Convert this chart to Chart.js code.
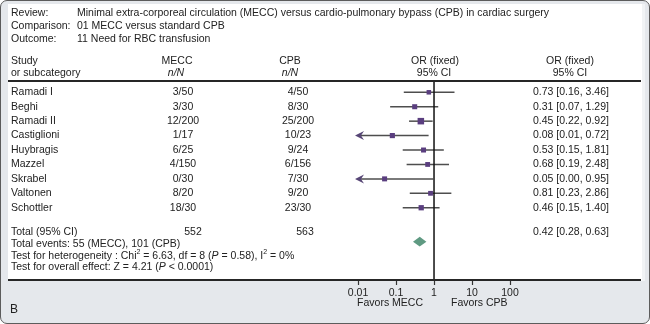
<!DOCTYPE html>
<html>
<head>
<meta charset="utf-8">
<script src="https://cdn.jsdelivr.net/npm/chart.js@4.4.0/dist/chart.umd.min.js"></script>
<style>
  html, body { margin: 0; padding: 0; background: #fff; }
  #frame {
    position: relative; width: 650px; height: 324px; box-sizing: border-box;
    border: 1px solid #5c5c5c; border-radius: 7px; background: #e5e8ec; overflow: hidden;
  }
  #panel {
    position: absolute; left: 7px; top: 3px; width: 634px; height: 277px;
    background: #fff; box-shadow: 3px 0 0 #f1f3f5;
  }
  #forest { position: absolute; left: -1px; top: -1px; }
</style>
</head>
<body>
<div id="frame">
  <div id="panel"></div>
  <canvas id="forest" width="650" height="324"></canvas>
</div>
<script>
// study rows
const studies = ['Ramadi I', 'Beghi', 'Ramadi II', 'Castiglioni', 'Huybragis', 'Mazzel', 'Skrabel', 'Valtonen', 'Schottler'];
const meccEvents = [3, 3, 12, 1, 6, 4, 0, 8, 18];
const meccTotal = [50, 30, 200, 17, 25, 150, 30, 20, 30];
const cpbEvents = [4, 8, 25, 10, 9, 6, 7, 9, 23];
const cpbTotal = [50, 30, 200, 23, 24, 156, 30, 20, 30];
const oddsRatio = [0.73, 0.31, 0.45, 0.08, 0.53, 0.68, 0.05, 0.81, 0.46];
const ciLow = [0.16, 0.07, 0.22, 0.01, 0.15, 0.19, 0.00, 0.23, 0.15];
const ciHigh = [3.46, 1.29, 0.92, 0.72, 1.81, 2.48, 0.95, 2.86, 1.40];

// pooled estimate
const pooledOR = 0.42;
const pooledLow = 0.28;
const pooledHigh = 0.63;

const axisTicks = [0.01, 0.1, 1, 10, 100];

const headerLines = [
  ['Review:', 'Minimal extra-corporeal circulation (MECC) versus cardio-pulmonary bypass (CPB) in cardiac surgery'],
  ['Comparison:', '01 MECC versus standard CPB'],
  ['Outcome:', '11 Need for RBC transfusion']
];

const sum = arr => arr.reduce((a, b) => a + b, 0);

// Mantel-Haenszel weights (percent) -> square size
const mhWeights = studies.map((s, i) => {
  const n = meccTotal[i] + cpbTotal[i];
  return (meccTotal[i] - meccEvents[i]) * cpbEvents[i] / n;
});
const weightTotal = sum(mhWeights);
const squareRadius = mhWeights.map(w => (3.2 + 0.6 * Math.sqrt(100 * w / weightTotal)) / Math.SQRT2);

const FONT = '"Liberation Sans", Arial, Helvetica, sans-serif';
const TEXT = '#222';
const fmt = v => v.toFixed(2);

function drawRuns(ctx, x, y, runs) {
  // runs: [text, style] where style is '', 'i' (italic) or 'sup'
  runs.forEach(([t, style]) => {
    if (style === 'sup') {
      ctx.font = '7px ' + FONT;
      ctx.fillText(t, x, y - 4);
    } else {
      ctx.font = (style === 'i' ? 'italic ' : '') + '10.5px ' + FONT;
      ctx.fillText(t, x, y);
    }
    x += ctx.measureText(t).width;
  });
}

const forestPlugin = {
  id: 'forestTable',
  beforeDatasetsDraw(chart) {
    const { ctx, chartArea, scales: { x, y } } = chart;
    ctx.save();

    // confidence interval whiskers
    studies.forEach((s, i) => {
      const py = y.getPixelForValue(i);
      const clipped = ciLow[i] <= axisTicks[0];
      const x0 = clipped ? chartArea.left : x.getPixelForValue(ciLow[i]);
      const x1 = x.getPixelForValue(ciHigh[i]);
      ctx.strokeStyle = '#4e4e4e';
      ctx.lineWidth = 1.5;
      ctx.beginPath();
      ctx.moveTo(x0 + (clipped ? 3 : 0), py);
      ctx.lineTo(x1, py);
      ctx.stroke();
      if (clipped) {
        ctx.fillStyle = '#574676';
        ctx.beginPath();
        ctx.moveTo(x0, py);
        ctx.lineTo(x0 + 9, py - 4.5);
        ctx.lineTo(x0 + 6, py);
        ctx.lineTo(x0 + 9, py + 4.5);
        ctx.closePath();
        ctx.fill();
      }
    });

    // line of no effect
    const xOne = x.getPixelForValue(1);
    ctx.strokeStyle = '#111';
    ctx.lineWidth = 1.5;
    ctx.beginPath();
    ctx.moveTo(xOne, chartArea.top);
    ctx.lineTo(xOne, chartArea.bottom);
    ctx.stroke();

    // pooled diamond
    const dy = y.getPixelForValue(10.35);
    ctx.fillStyle = '#5f9a82';
    ctx.beginPath();
    ctx.moveTo(x.getPixelForValue(pooledLow), dy);
    ctx.lineTo(x.getPixelForValue(pooledOR), dy - 4.8);
    ctx.lineTo(x.getPixelForValue(pooledHigh), dy);
    ctx.lineTo(x.getPixelForValue(pooledOR), dy + 4.8);
    ctx.closePath();
    ctx.fill();

    // header rule and axis rule across the panel
    ctx.strokeStyle = '#262626';
    ctx.lineWidth = 2;
    [chartArea.top - 1, chartArea.bottom].forEach(py => {
      ctx.beginPath();
      ctx.moveTo(8, py);
      ctx.lineTo(641, py);
      ctx.stroke();
    });
    ctx.restore();
  },
  afterDraw(chart) {
    const { ctx, scales: { x, y } } = chart;
    const xOne = x.getPixelForValue(1);
    ctx.save();
    ctx.fillStyle = TEXT;
    ctx.textBaseline = 'middle';
    ctx.font = '10.5px ' + FONT;

    // review / comparison / outcome block
    headerLines.forEach(([k, v], i) => {
      ctx.textAlign = 'left';
      ctx.fillText(k, 11, 13 + i * 13);
      ctx.fillText(v, 77, 13 + i * 13);
    });

    // column headings
    const h1 = y.getPixelForValue(-2.14);
    const h2 = y.getPixelForValue(-1.3);
    ctx.textAlign = 'left';
    ctx.fillText('Study', 11, h1);
    ctx.fillText('or subcategory', 11, h2);
    ctx.textAlign = 'center';
    ctx.fillText('MECC', 177, h1);
    ctx.fillText('CPB', 290, h1);
    ctx.fillText('OR (fixed)', xOne + 1, h1);
    ctx.fillText('95% CI', xOne, h2);
    ctx.fillText('OR (fixed)', 570, h1);
    ctx.fillText('95% CI', 570, h2);
    ctx.font = 'italic 10.5px ' + FONT;
    ctx.fillText('n/N', 176, h2);
    ctx.fillText('n/N', 290, h2);
    ctx.font = '10.5px ' + FONT;

    // study rows
    studies.forEach((s, i) => {
      const py = y.getPixelForValue(i);
      ctx.textAlign = 'left';
      ctx.fillText(s, 11, py);
      ctx.fillText(fmt(oddsRatio[i]) + ' [' + fmt(ciLow[i]) + ', ' + fmt(ciHigh[i]) + ']', 533, py);
      ctx.textAlign = 'center';
      ctx.fillText(meccEvents[i] + '/' + meccTotal[i], 183, py);
      ctx.fillText(cpbEvents[i] + '/' + cpbTotal[i], 298, py);
    });

    // totals and tests
    const tRow = y.getPixelForValue(9.66);
    ctx.textAlign = 'left';
    ctx.fillText('Total (95% CI)', 11, tRow);
    ctx.fillText(fmt(pooledOR) + ' [' + fmt(pooledLow) + ', ' + fmt(pooledHigh) + ']', 533, tRow);
    ctx.textAlign = 'center';
    ctx.fillText(String(sum(meccTotal)), 193, tRow);
    ctx.fillText(String(sum(cpbTotal)), 305, tRow);
    ctx.textAlign = 'left';
    ctx.fillText('Total events: ' + sum(meccEvents) + ' (MECC), ' + sum(cpbEvents) + ' (CPB)', 11, y.getPixelForValue(10.51));
    drawRuns(ctx, 11, y.getPixelForValue(11.32), [
      ['Test for heterogeneity : Chi', ''], ['2', 'sup'], [' = 6.63, df = 8 (', ''], ['P', 'i'],
      [' = 0.58), I', ''], ['2', 'sup'], [' = 0%', '']
    ]);
    drawRuns(ctx, 11, y.getPixelForValue(12.08), [
      ['Test for overall effect: Z = 4.21 (', ''], ['P', 'i'], [' < 0.0001)', '']
    ]);

    // favours labels under the axis
    ctx.font = '10.5px ' + FONT;
    ctx.textAlign = 'right';
    ctx.fillText('Favors MECC', xOne - 11, 303);
    ctx.textAlign = 'left';
    ctx.fillText('Favors CPB', xOne + 17, 303);

    // panel letter
    ctx.font = '12px ' + FONT;
    ctx.fillText('B', 10, 310);
    ctx.restore();
  }
};

const forestChart = new Chart(document.getElementById('forest').getContext('2d'), {
  type: 'scatter',
  data: {
    datasets: [{
      data: studies.map((s, i) => ({ x: oddsRatio[i], y: i })),
      pointStyle: 'rect',
      pointRadius: squareRadius,
      backgroundColor: '#5a3e7f',
      borderWidth: 0
    }]
  },
  options: {
    responsive: false,
    animation: false,
    devicePixelRatio: 1,
    layout: { padding: { left: 355, right: 140, top: 82, bottom: 22.4 } },
    plugins: { legend: { display: false }, tooltip: { enabled: false } },
    scales: {
      x: {
        type: 'logarithmic',
        min: Math.pow(10, -2.08),
        max: 100,
        afterBuildTicks: scale => { scale.ticks = axisTicks.map(v => ({ value: v })); },
        ticks: {
          callback: v => String(v),
          font: { family: FONT, size: 10.5 },
          color: TEXT,
          padding: 2,
          maxRotation: 0,
          autoSkip: false
        },
        grid: { drawOnChartArea: false, drawTicks: true, tickLength: 5, tickColor: '#333', tickWidth: 1.2 },
        border: { display: false }
      },
      y: { type: 'linear', reverse: true, min: -0.714, max: 13.008, display: false }
    }
  },
  plugins: [forestPlugin]
});
</script>
</body>
</html>
